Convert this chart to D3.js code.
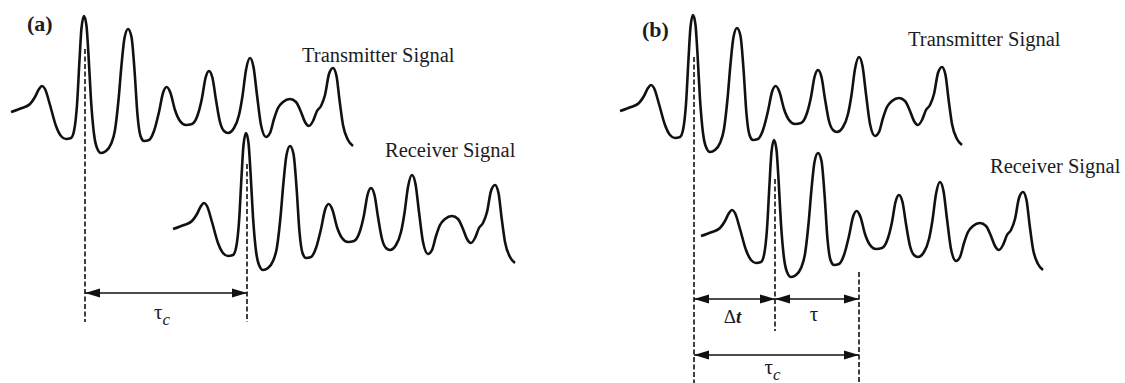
<!DOCTYPE html>
<html>
<head>
<meta charset="utf-8">
<script src="https://cdn.jsdelivr.net/npm/d3@7"></script>
<style>
  body { margin: 0; background: #fff; }
  text { font-family: "Liberation Serif", "Times New Roman", serif; fill: #1c1c24; }
</style>
</head>
<body>
<div id="chart"></div>
<script>
// waveform: time (t) and amplitude (a)
var waveT = [0, 11, 19, 24, 28, 31, 34, 39, 45, 50, 55, 60, 63, 66, 68.5, 70.5, 73, 75.5, 77.5, 80,
  83, 86, 90, 95, 100, 104, 107.5, 110.5, 113.5, 117, 120.5, 123.5, 126.5, 129.5, 133, 138, 143, 148,
  152, 155.7, 159.5, 164, 169, 175, 181, 187, 191, 194.5, 198, 201.5, 205, 209, 213, 217, 223, 228,
  231.5, 235, 239, 242.5, 246, 250, 255, 259, 263, 267, 272, 279, 285, 290, 294, 298, 302, 306, 310,
  314, 318, 322, 325.5, 328.5, 332, 337, 342];
var waveA = [41, 45, 49, 56, 64, 67, 64, 48, 27, 17, 14, 15, 22, 48, 93, 125, 137, 127, 98, 53,
  19, 5, 0, 2, 9, 23, 53, 88, 115, 124, 116, 83, 38, 17, 12, 13, 22, 41,
  60, 66, 60, 43, 32, 28, 29, 39, 55, 75, 82, 75, 53, 31, 22, 20, 25, 38,
  57, 83, 95, 86, 58, 28, 16, 20, 34, 45, 51, 54, 51, 41, 31, 27, 32, 42, 47,
  58, 79, 85, 77, 53, 28, 13, 7];

// signal names and delays
var signalNames = ["Transmitter Signal", "Receiver Signal"];
var peakTime = 74;          // first big peak of the transmitter
var delayA = 162;           // tau_c in (a)
var deltaT = 81;            // delta t in (b)
var tau = 84;               // tau in (b)
var panelLabels = ["(a)", "(b)"];

var wave = waveT.map(function(t, i) { return {t: t, a: waveA[i]}; });

var svg = d3.select("#chart")
  .append("svg")
    .attr("width", 1125)
    .attr("height", 383);

// arrow heads
var defs = svg.append("defs");
["start", "end"].forEach(function(k) {
  defs.append("marker")
    .attr("id", "arr-" + k)
    .attr("markerUnits", "userSpaceOnUse")
    .attr("markerWidth", 16).attr("markerHeight", 10)
    .attr("refX", k == "end" ? 15 : 0).attr("refY", 5)
    .attr("orient", "auto")
  .append("path")
    .attr("d", k == "end" ? "M0,0.5L15,5L0,9.5Z" : "M15,0.5L0,5L15,9.5Z")
    .attr("fill", "#111");
});

function drawWave(x, y0, delay) {
  var y = d3.scaleLinear().domain([0, 140]).range([y0, y0 - 140]);
  var line = d3.line()
    .x(function(d) { return x(d.t + delay); })
    .y(function(d) { return y(d.a); })
    .curve(d3.curveMonotoneX);
  svg.append("path")
    .datum(wave)
    .attr("d", line)
    .attr("fill", "none")
    .attr("stroke", "#111")
    .attr("stroke-width", 2.6)
    .attr("stroke-linejoin", "round");
}

function dashed(x, y1, y2) {
  svg.append("line")
    .attr("x1", x).attr("x2", x)
    .attr("y1", y1).attr("y2", y2)
    .attr("stroke", "#111")
    .attr("stroke-width", 1.6)
    .attr("stroke-dasharray", "5,2.5");
}

function arrow(x1, x2, y) {
  svg.append("line")
    .attr("x1", x1).attr("x2", x2)
    .attr("y1", y).attr("y2", y)
    .attr("stroke", "#111")
    .attr("stroke-width", 1.6)
    .attr("marker-start", "url(#arr-start)")
    .attr("marker-end", "url(#arr-end)");
}

function tauLabel(x, y, sub) {
  var t = svg.append("text")
    .attr("x", x).attr("y", y)
    .attr("text-anchor", "middle")
    .style("font-size", "21px")
    .text("\u03c4");
  if (sub) {
    t.append("tspan")
      .attr("dy", 6)
      .style("font-size", "17px")
      .style("font-style", "italic")
      .text("c");
  }
}

// ---- panel (a)
var xA = d3.scaleLinear().domain([0, 500]).range([11, 511]);
drawWave(xA, 153, 0);
drawWave(xA, 270, delayA);

svg.append("text").attr("x", 27).attr("y", 31)
  .style("font-size", "22px").style("font-weight", "bold").text(panelLabels[0]);
svg.append("text").attr("x", 302).attr("y", 62)
  .style("font-size", "20.5px").text(signalNames[0]);
svg.append("text").attr("x", 385).attr("y", 157)
  .style("font-size", "20.5px").text(signalNames[1]);

dashed(xA(peakTime), 49, 322);
dashed(xA(peakTime + delayA), 164, 322);
arrow(xA(peakTime), xA(peakTime + delayA), 293);
tauLabel(xA(peakTime + delayA / 2) - 4, 319, true);

// ---- panel (b)
var xB = d3.scaleLinear().domain([0, 500]).range([620, 1120]);
drawWave(xB, 152, 0);
drawWave(xB, 277, deltaT);

svg.append("text").attr("x", 642).attr("y", 37)
  .style("font-size", "22px").style("font-weight", "bold").text(panelLabels[1]);
svg.append("text").attr("x", 908).attr("y", 46)
  .style("font-size", "20.5px").text(signalNames[0]);
svg.append("text").attr("x", 990).attr("y", 173)
  .style("font-size", "20.5px").text(signalNames[1]);

dashed(xB(peakTime), 57, 383);
dashed(xB(peakTime + deltaT), 179, 331);
dashed(xB(peakTime + deltaT + tau), 272, 383);
arrow(xB(peakTime), xB(peakTime + deltaT), 299);
arrow(xB(peakTime + deltaT), xB(peakTime + deltaT + tau), 299);
arrow(xB(peakTime), xB(peakTime + deltaT + tau), 355);

var dl = svg.append("text")
  .attr("x", xB(peakTime + deltaT / 2) - 2).attr("y", 323)
  .attr("text-anchor", "middle")
  .style("font-size", "19px")
  .text("\u0394");
dl.append("tspan").style("font-style", "italic").style("font-weight", "bold").text("t");
tauLabel(xB(peakTime + deltaT + tau / 2) - 3, 321, false);
tauLabel(xB(peakTime + (deltaT + tau) / 2) - 4, 374, true);
</script>
</body>
</html>
